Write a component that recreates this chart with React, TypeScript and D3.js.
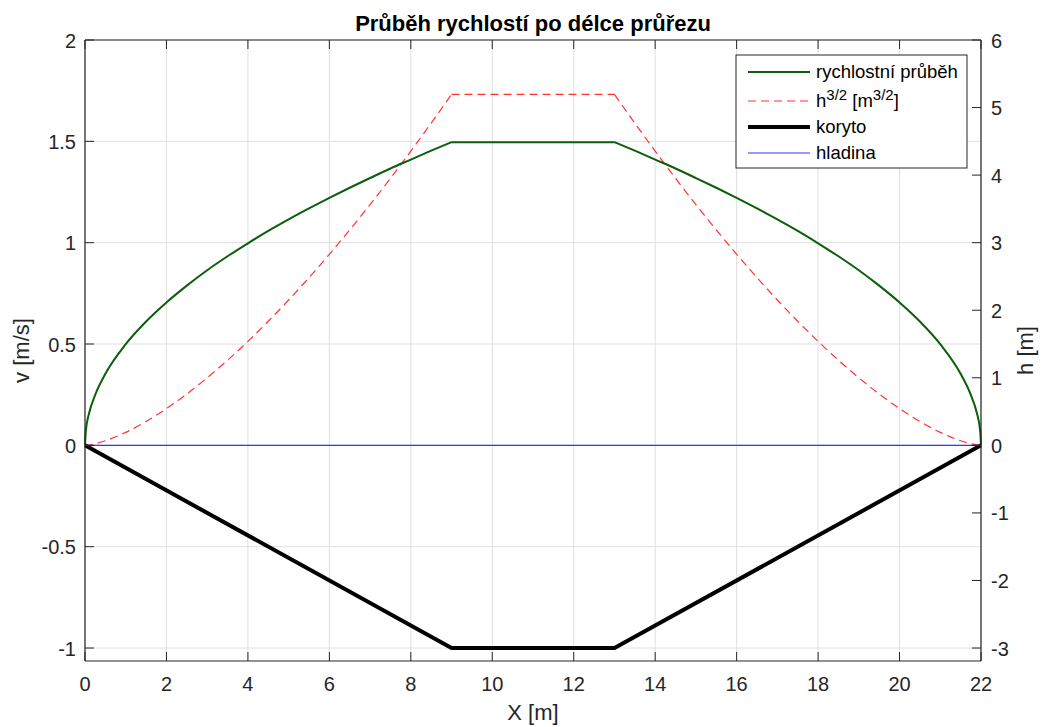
import React from "react";
import * as d3 from "d3";

// x positions along the cross-section [m]
const xs = [0, 0.02, 0.1, 0.25, 0.5, 1, 1.5, 2, 2.5, 3, 3.5, 4, 4.5, 5, 5.5, 6, 6.5, 7, 7.5, 8, 8.5, 9,
  13, 13.5, 14, 14.5, 15, 15.5, 16, 16.5, 17, 17.5, 18, 18.5, 19, 19.5, 20, 20.5, 21, 21.5, 21.75, 21.9, 21.98, 22];
// velocity profile [m/s] (left axis)
const velocity = [0, 0.071, 0.158, 0.249, 0.353, 0.499, 0.611, 0.705, 0.788, 0.864, 0.933, 0.997, 1.058, 1.115, 1.169, 1.221, 1.271, 1.319, 1.366, 1.410, 1.454, 1.496,
  1.496, 1.454, 1.410, 1.366, 1.319, 1.271, 1.221, 1.169, 1.115, 1.058, 0.997, 0.933, 0.864, 0.788, 0.705, 0.611, 0.499, 0.353, 0.249, 0.158, 0.071, 0];
// h^(3/2) [m^(3/2)] (right axis)
const h32 = [0, 0.0005, 0.0061, 0.0241, 0.068, 0.1925, 0.3536, 0.5443, 0.7607, 1, 1.2602, 1.5396, 1.8371, 2.1517, 2.4824, 2.8284, 3.1893, 3.5642, 3.9528, 4.3546, 4.7692, 5.1962,
  5.1962, 4.7692, 4.3546, 3.9528, 3.5642, 3.1893, 2.8284, 2.4824, 2.1517, 1.8371, 1.5396, 1.2602, 1, 0.7607, 0.5443, 0.3536, 0.1925, 0.068, 0.0241, 0.0061, 0.0005, 0];
// channel bed (koryto) [m] (right axis)
const bedX = [0, 9, 13, 22];
const bedH = [0, -3, -3, 0];
// water surface (hladina)
const surfX = [0, 22];
const surfH = [0, 0];

const xTicks = [0, 2, 4, 6, 8, 10, 12, 14, 16, 18, 20, 22];
const yLeftTicks = [-1, -0.5, 0, 0.5, 1, 1.5, 2];
const yRightTicks = [-3, -2, -1, 0, 1, 2, 3, 4, 5, 6];

const legendLabels = ["rychlostní průběh", "h3/2", "koryto", "hladina"];

const W = 1047, H = 727;
const L = 85, R = 981, T = 40, B = 661;
const FONT = "'Liberation Sans', Arial, Helvetica, sans-serif";
const AX = "#262626";

// index ranges of the smooth slopes and the flat middle section
const segs: [number, number][] = [[0, 22], [21, 23], [22, xs.length]];

export default function App() {
  const x = d3.scaleLinear().domain([0, 22]).range([L, R]);
  const yL = d3.scaleLinear().domain([-1.064, 2]).range([B, T]);
  const yR = d3.scaleLinear().domain([-3.192, 6]).range([B, T]);

  const pts = (ys: number[], y: d3.ScaleLinear<number, number>) =>
    segs
      .map(([a, b]) =>
        d3.line<number>()
          .curve(d3.curveMonotoneX)
          .x((i) => x(xs[i]))
          .y((i) => y(ys[i]))(d3.range(a, b)) || ""
      )
      .join(" ");

  const vLine = pts(velocity, yL);
  const hLine = pts(h32, yR);
  const bedLine = d3.line<number>().x((_, i) => x(bedX[i])).y((d) => yR(d))(bedH) || "";
  const surfLine = d3.line<number>().x((_, i) => x(surfX[i])).y((d) => yR(d))(surfH) || "";

  const tick = 9;
  const fs = 20;
  const lfs = 18.5;
  const sfs = 15;
  const lx = 736, ly = 55, lw = 231, lh = 113;
  const rows = [72, 101, 127, 153];

  return (
    <svg width={W} height={H} style={{ display: "block", position: "absolute", left: 0, top: 0 }} fontFamily={FONT}>
      <rect x={0} y={0} width={W} height={H} fill="#fff" />
      {/* grid */}
      {xTicks.map((t) => (
        <line key={"gx" + t} x1={x(t)} x2={x(t)} y1={T} y2={B} stroke="#dfdfdf" strokeWidth={1} />
      ))}
      {yLeftTicks.map((t) => (
        <line key={"gy" + t} x1={L} x2={R} y1={yL(t)} y2={yL(t)} stroke="#dfdfdf" strokeWidth={1} />
      ))}
      {/* data */}
      <path d={hLine} fill="none" stroke="#ff3333" strokeWidth={1.2} strokeDasharray="8,5" />
      <path d={vLine} fill="none" stroke="#0b5e0b" strokeWidth={2} strokeLinejoin="round" />
      <path d={bedLine} fill="none" stroke="#000" strokeWidth={4} strokeLinejoin="round" />
      <path d={surfLine} fill="none" stroke="#3333ff" strokeWidth={1.2} />
      {/* axes box */}
      <line x1={L} x2={R} y1={B} y2={B} stroke={AX} strokeWidth={1.2} />
      <line x1={L} x2={R} y1={T} y2={T} stroke={AX} strokeWidth={1.2} />
      <line x1={L} x2={L} y1={T} y2={B} stroke={AX} strokeWidth={1.2} />
      <line x1={R} x2={R} y1={T} y2={B} stroke={AX} strokeWidth={1.2} />
      {/* x ticks */}
      {xTicks.map((t) => (
        <g key={"xt" + t}>
          <line x1={x(t)} x2={x(t)} y1={B} y2={B - tick} stroke={AX} />
          <line x1={x(t)} x2={x(t)} y1={T} y2={T + tick} stroke={AX} />
          <text x={x(t)} y={B + 30} textAnchor="middle" fontSize={fs} fill={AX}>{t}</text>
        </g>
      ))}
      {/* left y ticks */}
      {yLeftTicks.map((t) => (
        <g key={"yl" + t}>
          <line x1={L} x2={L + tick} y1={yL(t)} y2={yL(t)} stroke={AX} />
          <text x={L - 9} y={yL(t) + 7.5} textAnchor="end" fontSize={fs} fill={AX}>{t}</text>
        </g>
      ))}
      {/* right y ticks */}
      {yRightTicks.map((t) => (
        <g key={"yr" + t}>
          <line x1={R} x2={R - tick} y1={yR(t)} y2={yR(t)} stroke={AX} />
          <text x={R + 10} y={yR(t) + 7.5} textAnchor="start" fontSize={fs} fill={AX}>{t}</text>
        </g>
      ))}
      {/* labels */}
      <text x={(L + R) / 2} y={31} textAnchor="middle" fontSize={22} fontWeight="bold" fill="#000">Průběh rychlostí po délce průřezu</text>
      <text x={(L + R) / 2} y={720} textAnchor="middle" fontSize={22} fill={AX}>X [m]</text>
      <text transform={`translate(29,${(T + B) / 2}) rotate(-90)`} textAnchor="middle" fontSize={22} fill={AX}>v [m/s]</text>
      <text transform={`translate(1033,${(T + B) / 2}) rotate(-90)`} textAnchor="middle" fontSize={22} fill={AX}>h [m]</text>
      {/* legend */}
      <rect x={lx} y={ly} width={lw} height={lh} fill="#fff" stroke={AX} strokeWidth={1} />
      <line x1={748} x2={810} y1={rows[0]} y2={rows[0]} stroke="#0b5e0b" strokeWidth={2} />
      <line x1={748} x2={810} y1={rows[1]} y2={rows[1]} stroke="#ff3333" strokeWidth={1.2} strokeDasharray="8,5" />
      <line x1={748} x2={810} y1={rows[2]} y2={rows[2]} stroke="#000" strokeWidth={4} />
      <line x1={748} x2={810} y1={rows[3]} y2={rows[3]} stroke="#3333ff" strokeWidth={1.2} />
      <text x={816} y={rows[0] + 6} fontSize={lfs} fill="#000">{legendLabels[0]}</text>
      <text x={816} y={rows[1] + 6} fontSize={lfs} fill="#000">
        h<tspan dy={-7} fontSize={sfs}>3/2</tspan>
        <tspan dy={7}> [m</tspan>
        <tspan dy={-7} fontSize={sfs}>3/2</tspan>
        <tspan dy={7}>]</tspan>
      </text>
      <text x={816} y={rows[2] + 6} fontSize={lfs} fill="#000">{legendLabels[2]}</text>
      <text x={816} y={rows[3] + 6} fontSize={lfs} fill="#000">{legendLabels[3]}</text>
    </svg>
  );
}
